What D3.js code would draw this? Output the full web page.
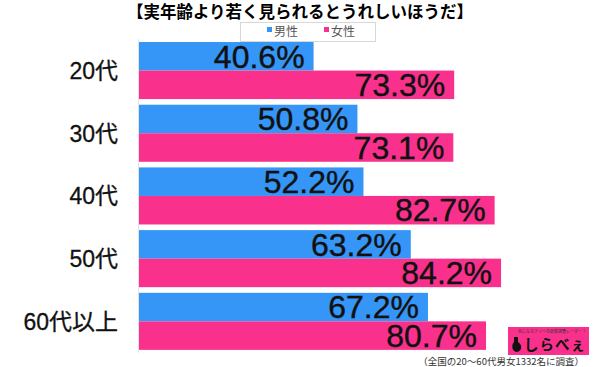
<!DOCTYPE html>
<html>
<head>
<meta charset="utf-8">
<script src="https://cdn.jsdelivr.net/npm/d3@7.9.0/dist/d3.min.js"></script>
<style>
  body { margin: 0; background: #fff; }
  svg { display: block; font-family: "Liberation Sans", Arial, "Noto Sans CJK JP", sans-serif; }
  .jp { font-family: "Noto Sans CJK JP", sans-serif; }
</style>
</head>
<body>
<svg id="chart" width="600" height="367"></svg>
<script>
// data
const categories = ['20代', '30代', '40代', '50代', '60代以上'];
const seriesNames = ['男性', '女性'];
const male = [40.6, 50.8, 52.2, 63.2, 67.2];
const female = [73.3, 73.1, 82.7, 84.2, 80.7];
const colors = ['#3596f7', '#f9318c'];

const svg = d3.select('#chart');

// title
svg.append('text')
    .attr('class', 'jp')
    .attr('x', 300).attr('y', 18)
    .attr('text-anchor', 'middle')
    .attr('font-size', 16.5).attr('font-weight', 'bold')
    .text('【実年齢より若く見られるとうれしいほうだ】');

// legend
let legend = svg.append('g');
legend.append('rect')
    .attr('x', 240.5).attr('y', 22.5).attr('width', 135).attr('height', 19)
    .attr('fill', '#fff').attr('stroke', '#d8d8d8');
seriesNames.forEach((name, i) => {
    let lx = 267 + i * 57;
    legend.append('rect').attr('x', lx).attr('y', 27).attr('width', 5).attr('height', 5).attr('fill', colors[i]);
    legend.append('text').attr('class', 'jp')
        .attr('x', lx + 7).attr('y', 36)
        .attr('font-size', 12).attr('fill', '#555')
        .text(name);
});

// scales
let x = d3.scaleLinear().domain([0, 100]).range([139, 569]);
let y = d3.scaleBand().domain(categories).range([39.2, 352.7])
    .paddingInner(0.09).paddingOuter(0.045);
let ySub = d3.scaleBand().domain([0, 1]).range([0, y.bandwidth()]);

let rows = categories.map((c, i) => ({ cat: c, vals: [male[i], female[i]] }));

// faint axis line
svg.append('line')
    .attr('x1', 138.5).attr('x2', 138.5)
    .attr('y1', y.range()[0]).attr('y2', y.range()[1])
    .attr('stroke', '#e2e2e2');

let groups = svg.selectAll('g.row').data(rows).join('g')
    .attr('class', 'row')
    .attr('transform', d => `translate(0,${y(d.cat)})`);

groups.selectAll('rect').data(d => d.vals).join('rect')
    .attr('x', x(0))
    .attr('y', (d, i) => ySub(i))
    .attr('width', d => x(d) - x(0))
    .attr('height', ySub.bandwidth())
    .attr('fill', (d, i) => colors[i]);

groups.selectAll('text.val').data(d => d.vals).join('text')
    .attr('class', 'val')
    .attr('x', d => x(d) - 9)
    .attr('y', (d, i) => ySub(i) + ySub.bandwidth() - 3)
    .attr('text-anchor', 'end')
    .attr('font-size', 32)
    .attr('fill', '#111')
    .attr('stroke', '#111').attr('stroke-width', 0.4)
    .text(d => d.toFixed(1) + '%');

// category labels
groups.append('text')
    .attr('x', 118)
    .attr('y', y.bandwidth() / 2 + 8.5)
    .attr('text-anchor', 'end')
    .attr('font-size', 23)
    .attr('fill', '#111')
    .attr('stroke', '#111').attr('stroke-width', 0.3)
    .text(d => d.cat);

// logo
let logo = svg.append('g');
logo.append('rect').attr('x', 508).attr('y', 327).attr('width', 81).attr('height', 28).attr('fill', '#f9318c');
logo.append('text').attr('class', 'jp')
    .attr('x', 552).attr('y', 333).attr('text-anchor', 'middle')
    .attr('font-size', 4).attr('fill', '#333')
    .text('気になるアイツの最新調査レーダー！');
logo.append('path')
    .attr('d', 'M514,337 L518,337 L518,342 C522,344 523,351 517,352 C512,352 511,345 514,342 Z')
    .attr('fill', '#111');
logo.append('text').attr('class', 'jp')
    .attr('x', 524).attr('y', 350)
    .attr('font-size', 14.5).attr('font-weight', 'bold').attr('fill', '#111')
    .attr('letter-spacing', 1)
    .text('しらべぇ');

// footnote
svg.append('text').attr('class', 'jp')
    .attr('x', 584).attr('y', 365)
    .attr('text-anchor', 'end')
    .attr('font-size', 9.5).attr('fill', '#333')
    .text('（全国の20～60代男女1332名に調査）');
</script>
</body>
</html>
